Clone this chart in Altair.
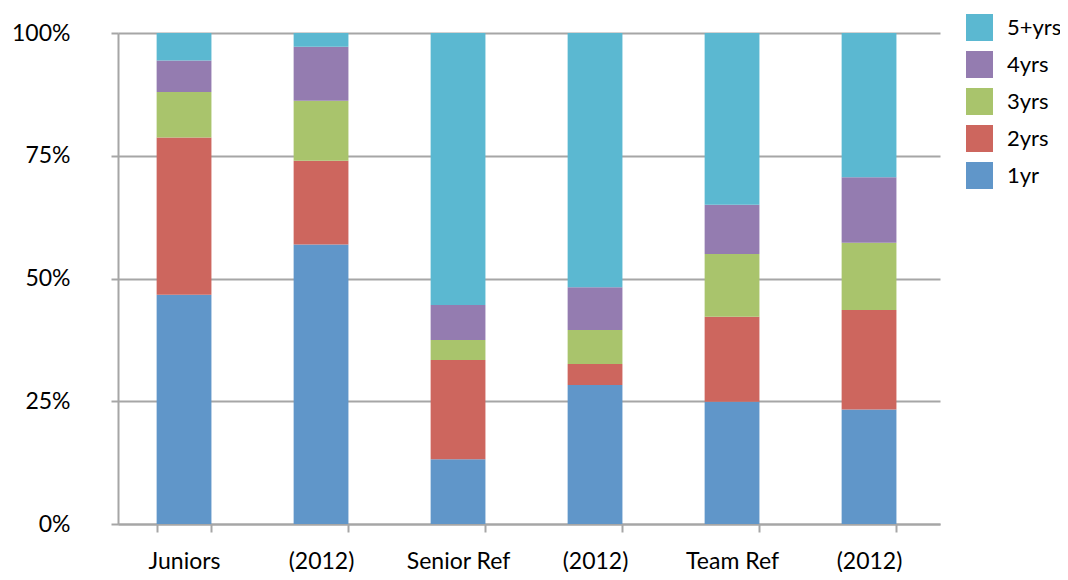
import altair as alt
import pandas as pd

categories = ["Juniors", "(2012)", "Senior Ref", "(2012)", "Team Ref", "(2012)"]
series = ["1yr", "2yrs", "3yrs", "4yrs", "5+yrs"]
values = {
    "1yr":   [46.7, 56.9, 13.2, 28.3, 24.9, 23.3],
    "2yrs":  [32.0, 17.1, 20.2, 4.3, 17.3, 20.3],
    "3yrs":  [9.3, 12.2, 4.1, 6.9, 12.8, 13.7],
    "4yrs":  [6.4, 11.0, 7.1, 8.7, 10.0, 13.3],
    "5+yrs": [5.6, 2.8, 55.4, 51.8, 35.0, 29.4],
}
colors = ["#6096C9", "#CD665E", "#A9C46C", "#947CB0", "#5BB8D1"]

keys = [f"c{i}" for i in range(len(categories))]
rows = []
for si, s in enumerate(series):
    for ci, k in enumerate(keys):
        rows.append({"key": k, "series": s, "value": values[s][ci], "ord": si})
df = pd.DataFrame(rows)

label_map = "{" + ",".join(f"'{k}':'{c}'" for k, c in zip(keys, categories)) + "}"
font = "Lato"

chart = alt.Chart(df).mark_bar().encode(
    x=alt.X("key:N", sort=keys,
            scale=alt.Scale(paddingInner=0.6, paddingOuter=0.3, align=0.47),
            axis=alt.Axis(title=None, labelExpr=f"{label_map}[datum.value]",
                          labelAngle=0, labelFontSize=23, labelFont=font,
                          labelColor="#000000", labelPadding=36,
                          labelBaseline="alphabetic",
                          tickBand="extent", tickSize=8, tickWidth=2,
                          tickColor="#A6A6A6", domainColor="#A6A6A6",
                          domainWidth=2, grid=False)),
    y=alt.Y("value:Q", stack="normalize",
            scale=alt.Scale(domain=[0, 1], nice=False),
            axis=alt.Axis(title=None, format="%", values=[0, 0.25, 0.5, 0.75, 1],
                          labelFontSize=23, labelFont=font, labelColor="#000000",
                          labelPadding=41, tickSize=7, tickWidth=2,
                          tickColor="#A6A6A6", domainColor="#A6A6A6",
                          domainWidth=2, gridColor="#A6A6A6", gridWidth=2)),
    color=alt.Color("series:N",
                    scale=alt.Scale(domain=series[::-1], range=colors[::-1]),
                    legend=alt.Legend(title=None, orient="none", legendX=848,
                                      legendY=-19, symbolType="square",
                                      symbolSize=729, symbolStrokeWidth=0,
                                      symbolOpacity=1,
                                      labelFontSize=22, labelFont=font,
                                      labelColor="#000000", labelOffset=14,
                                      rowPadding=10)),
    order=alt.Order("ord:Q", sort="ascending"),
).properties(
    width=822, height=491,
    autosize=alt.AutoSizeParams(type="none"),
    padding={"left": 110, "top": 25, "right": 120, "bottom": 48},
).configure_view(stroke=None)

chart.save("out.html", embed_options={"renderer": "svg", "actions": False})
